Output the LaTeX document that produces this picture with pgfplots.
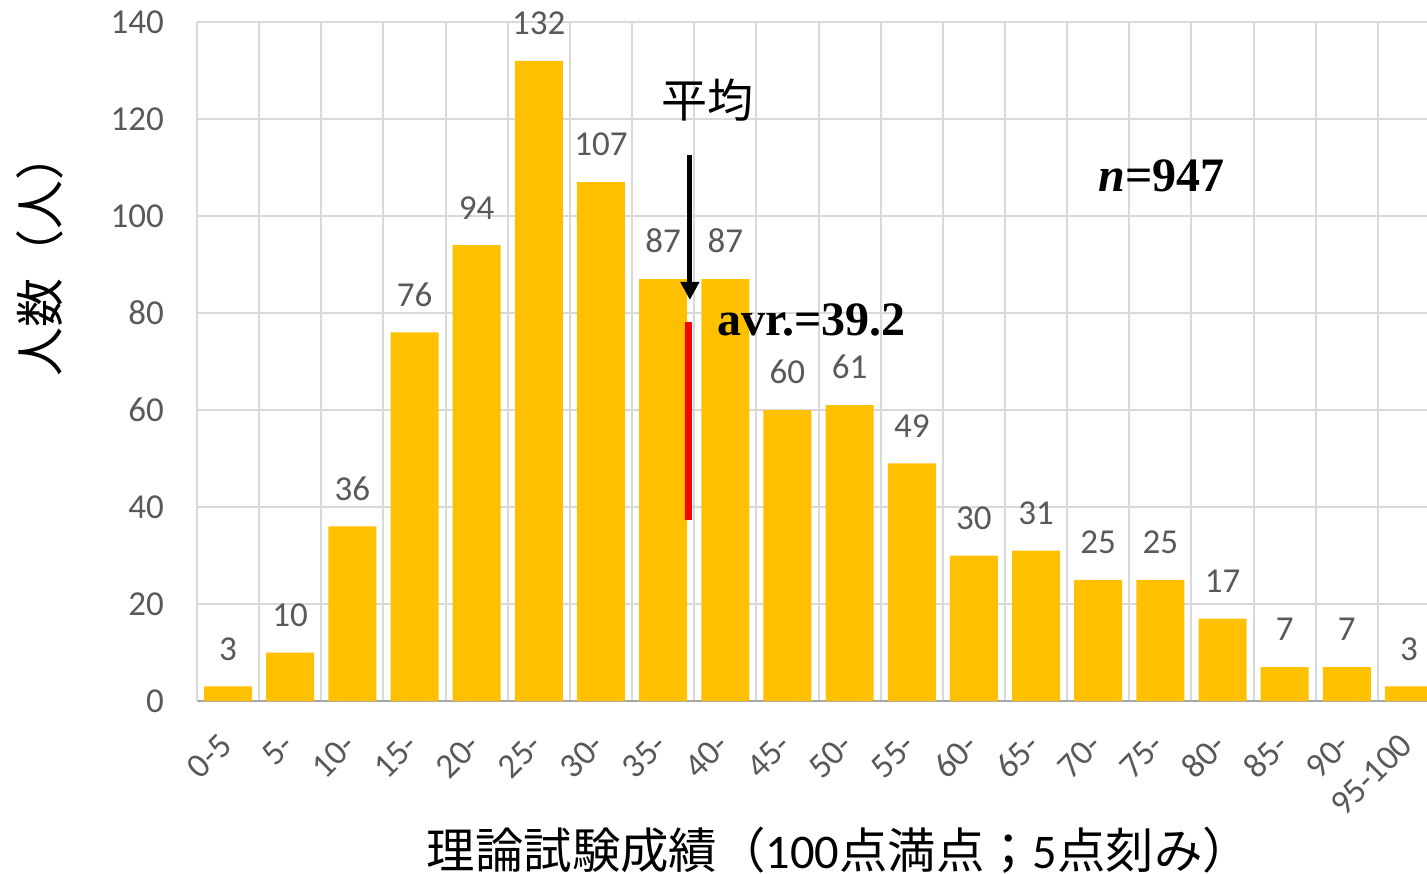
\documentclass[border=0pt]{standalone}
\usepackage{fontspec}
\setmainfont{Carlito}
\newfontfamily\jp{Noto Sans CJK JP}
\newfontfamily\tnr{Liberation Serif}
\usepackage{pgfplots}
\pgfplotsset{compat=1.18}
\usetikzlibrary{arrows.meta}
\definecolor{bargold}{HTML}{FFC000}
\definecolor{gridgray}{HTML}{D9D9D9}
\definecolor{ticktext}{HTML}{595959}
\definecolor{axisgray}{HTML}{A6A6A6}

\begin{document}
\begin{tikzpicture}
\begin{axis}[
  scale only axis, width=615pt, height=339.5pt,
  xmin=-0.5, xmax=19.29, ymin=0, ymax=140,
  ybar, bar width=24pt,
  axis x line*=bottom, axis y line*=left,
  x axis line style={draw=axisgray, line width=1pt, -},
  y axis line style={draw=gridgray, line width=1pt, -},
  xtick={0,...,19},
  xticklabels={0-5,5-,10-,15-,20-,25-,30-,35-,40-,45-,50-,55-,60-,65-,70-,75-,80-,85-,90-,95-100},
  minor xtick={-0.5,0.5,...,19.5},
  ytick={0,20,...,140},
  ymajorgrids, xminorgrids,
  grid style={draw=gridgray, line width=1pt},
  major tick length=0pt, minor tick length=0pt,
  tick label style={font=\fontsize{17.5}{19}\selectfont, text=ticktext},
  /pgf/number format/assume math mode=true,
  xticklabel style={rotate=45, anchor=east, xshift=-11pt, yshift=-12.8pt},
  yticklabel style={xshift=-13pt},
  nodes near coords,
  every node near coord/.append style={font=\fontsize{17.5}{19}\selectfont, text=ticktext, yshift=9.5pt},
]
\addplot[fill=bargold, draw=none] coordinates {
(0,3) (1,10) (2,36) (3,76) (4,94) (5,132) (6,107) (7,87) (8,87) (9,60)
(10,61) (11,49) (12,30) (13,31) (14,25) (15,25) (16,17) (17,7) (18,7) (19,3)
};
% average marker
\draw[red, line width=3.5pt] (axis cs:7.40,37.3) -- (axis cs:7.40,78.1);
\draw[black, line width=2.5pt, -{Triangle[length=9pt,width=9pt]}] (axis cs:7.43,112.6) -- (axis cs:7.43,82.7);
\node[font=\jp\fontsize{23}{25}\selectfont] at (axis cs:7.71,124) {平均};
\node[anchor=west, inner sep=0pt, font=\tnr\bfseries\fontsize{24}{26}\selectfont] at (axis cs:7.87,78.6) {avr.=39.2};
\node[anchor=west, inner sep=0pt, font=\tnr\bfseries\fontsize{24}{26}\selectfont] at (axis cs:14.0,108.2) {\textit{n}=947};
\end{axis}
\node[rotate=90, font=\jp\fontsize{24.5}{26}\selectfont] at (-78.5pt,223.5pt) {人数（人）};
\node[font=\jp\fontsize{24.2}{26}\selectfont] at (321pt,-74.5pt) {理論試験成績（{\rmfamily 100}点満点；{\rmfamily 5}点刻み）};
\pgfresetboundingbox
\path (-98.5pt,-86pt) rectangle (615pt,350.5pt);
\end{tikzpicture}
\end{document}
